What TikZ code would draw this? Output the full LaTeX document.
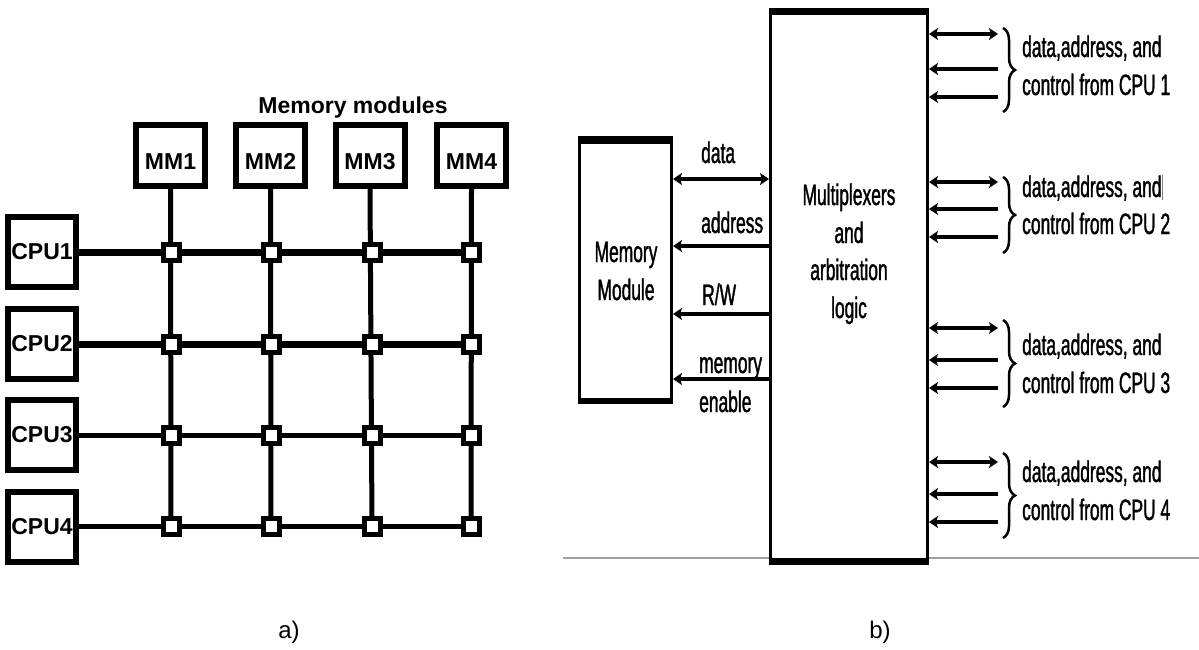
\documentclass[tikz,border=0pt]{standalone}
\usepackage{fontspec}
\setmainfont{Liberation Sans}
\newfontfamily\narrowfont[FakeStretch=0.59,FakeBold=1.2]{Liberation Sans}
\usetikzlibrary{arrows.meta,decorations.pathreplacing}
\begin{document}
\begin{tikzpicture}[x=1pt,y=-1pt,
  box/.style={draw,line width=6pt,inner sep=0pt,font=\fontsize{23}{27}\selectfont\bfseries},
  sw/.style={draw,line width=5pt,fill=white,minimum size=16pt,inner sep=0pt},
  vline/.style={line width=5pt},
  lab/.style={font=\narrowfont\fontsize{29.5}{33}\selectfont,inner sep=0pt},
  tip/.tip={Stealth[length=9pt,width=12pt,inset=2pt]},
  arr/.style={line width=3.5pt,-tip},
  darr/.style={line width=3.5pt,tip-tip},
  bigbox/.style={draw,line width=3pt,inner sep=0pt},
  thickedge/.style={line width=7pt,shorten <=-1.5pt,shorten >=-1.5pt},
  brc/.style={decorate,decoration={brace,amplitude=12pt},line width=2.5pt},
  pcaption/.style={font=\fontsize{24}{28}\selectfont,inner sep=0pt}
]
\useasboundingbox (0,0) rectangle (1199,649);

% ---------------- panel a ----------------
\node[font=\fontsize{23}{27}\selectfont\bfseries,inner sep=0pt] (title) at (353,108) {Memory modules};

\foreach \j/\x in {1/170.5,2/270.5,3/370,4/471.5}
  \node[box,minimum width=69pt,minimum height=61pt,text height=28pt,text depth=0pt] (mm\j) at (\x,155.5) {MM\j};

\foreach \i/\y in {1/252,2/344,3/435,4/526.5}
  \node[box,minimum width=68pt,minimum height=70pt] (cpu\i) at (42,\y) {CPU\i};

\foreach \i/\y in {1/252,2/344,3/435,4/526.5}
  \foreach \j/\x in {1/171,2/271,3/372,4/471}
    \coordinate (g\i\j) at (\x,\y);

\foreach \j in {1,2,3,4}
  \draw[vline] (mm\j.south) -- (g4\j);

\draw[line width=7pt] (cpu1.east) -- (g14);
\draw[line width=7pt] (cpu2.east) -- (g24);
\draw[line width=5pt] (cpu3.east) -- (g34);
\draw[line width=5pt] (cpu4.east) -- (g44);

\foreach \i in {1,2,3,4}
  \foreach \j in {1,2,3,4}
    \node[sw] (s\i\j) at (g\i\j) {};

\node[pcaption] (capa) at (289,632) {a)};

% ---------------- panel b ----------------
\draw[gray!75,line width=1.8pt] (563,558) -- (1199,558);

\node[bigbox,fill=white,minimum width=157pt,minimum height=549.5pt] (mux) at (849,286.25) {};
\path (mux.north west) ++(1.5,1.5) coordinate (mnw) (mux.north east) ++(-1.5,1.5) coordinate (mne);
\draw[thickedge] (mnw) -- (mne);
\path (mux.south west) ++(1.5,-1.5) coordinate (msw) (mux.south east) ++(-1.5,-1.5) coordinate (mse);
\draw[thickedge] (msw) -- (mse);

\node[bigbox,minimum width=92pt,minimum height=261pt] (mem) at (625.5,270.5) {};
\draw[line width=8pt,shorten <=-1.5pt,shorten >=-1.5pt] ([shift={(1.5,1.5)}]mem.north west) -- ([shift={(-1.5,1.5)}]mem.north east);
\draw[line width=6.5pt,shorten <=-1.5pt,shorten >=-1.5pt] ([shift={(1.5,-1.5)}]mem.south west) -- ([shift={(-1.5,-1.5)}]mem.south east);

\node[lab,anchor=base] (memt1) at (626,262) {Memory};
\node[lab,anchor=base] (memt2) at (626,300) {Module};

\node[lab,anchor=base] (muxt1) at (849,205) {Multiplexers};
\node[lab,anchor=base] (muxt2) at (849,243) {and};
\node[lab,anchor=base] (muxt3) at (849,280) {arbitration};
\node[lab,anchor=base] (muxt4) at (849,318) {logic};

% left side signals
\coordinate (yd) at (0,179);
\coordinate (ya) at (0,246);
\coordinate (yr) at (0,314);
\coordinate (ye) at (0,379);
\draw[darr] (mux.west |- yd) -- (mem.east |- yd);
\draw[arr] (mux.west |- ya) -- (mem.east |- ya);
\draw[arr] (mux.west |- yr) -- (mem.east |- yr);
\draw[arr] (mux.west |- ye) -- (mem.east |- ye);

\node[lab,anchor=base west] (ld) at (701,163) {data};
\node[lab,anchor=base west] (la) at (701,233) {address};
\node[lab,anchor=base west] (lr) at (702,305) {R/W};
\node[lab,anchor=base west] (lm) at (699,373) {memory};
\node[lab,anchor=base west] (le) at (699,412) {enable};

% right side groups
\foreach \g/\ya/\yb/\yc/\bt/\bb/\tb in {1/34/69/97/28/112/95,2/182/209/237/177/253/234,3/328/360/388/320/407/393,4/462/494/522/453/538/520}{
  \coordinate (ra\g) at (998,\ya);
  \coordinate (rb\g) at (998,\yb);
  \coordinate (rc\g) at (998,\yc);
  \draw[darr] (mux.east |- ra\g) -- (ra\g);
  \draw[arr] (rb\g) -- (mux.east |- rb\g);
  \draw[arr] (rc\g) -- (mux.east |- rc\g);
  \coordinate (bt\g) at (1003,\bt);
  \coordinate (bb\g) at (1003,\bb);
  \draw[brc] (bt\g) -- (bb\g);
  \node[lab,anchor=base west] (tb\g) at (1022,\tb) {control from CPU \g};
}
\node[lab,anchor=base west] (ta1) at (1022,57) {data,address, and};
\node[lab,anchor=base west] (ta2) at (1022,197) {data,address, and{\color{gray}\rule[-0.1em]{0.6pt}{0.85em}}};
\node[lab,anchor=base west] (ta3) at (1022,355) {data,address, and};
\node[lab,anchor=base west] (ta4) at (1022,482) {data,address, and};

\node[pcaption] (capb) at (880,632) {b)};
\end{tikzpicture}
\end{document}
